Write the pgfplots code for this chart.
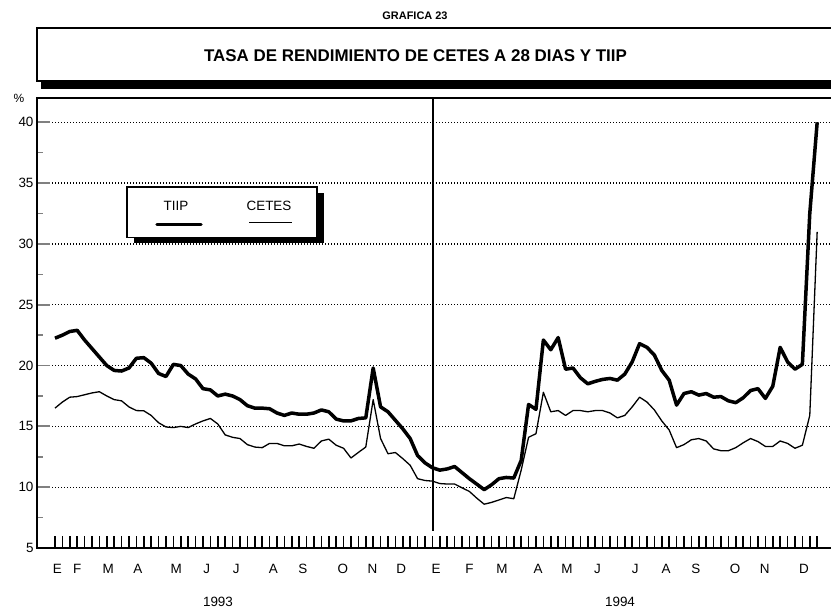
\documentclass[border=0pt]{standalone}
\usepackage{fontspec}
\setmainfont{Liberation Sans}
\usepackage{pgfplots}
\pgfplotsset{compat=1.18}
\usepackage{pgfplotstable}

\pgfplotstableread{
i tiip cetes
0 22.25 16.5
1 22.5 17.0
2 22.8 17.4
3 22.9 17.45
4 22.1 17.6
5 21.4 17.75
6 20.7 17.85
7 20.0 17.5
8 19.6 17.2
9 19.55 17.1
10 19.8 16.6
11 20.6 16.3
12 20.65 16.28
13 20.2 15.9
14 19.35 15.3
15 19.1 14.95
16 20.1 14.9
17 20.0 15.0
18 19.3 14.9
19 18.9 15.2
20 18.1 15.45
21 18.0 15.65
22 17.5 15.2
23 17.65 14.3
24 17.5 14.1
25 17.2 14.0
26 16.7 13.5
27 16.5 13.3
28 16.5 13.25
29 16.45 13.6
30 16.1 13.6
31 15.9 13.4
32 16.1 13.4
33 16.0 13.55
34 16.0 13.35
35 16.1 13.2
36 16.35 13.8
37 16.2 13.95
38 15.6 13.45
39 15.45 13.2
40 15.45 12.4
41 15.65 12.86
42 15.7 13.3
43 19.8 17.2
44 16.6 14.0
45 16.2 12.75
46 15.5 12.85
47 14.8 12.35
48 14.0 11.8
49 12.6 10.7
50 12.0 10.55
51 11.6 10.5
52 11.4 10.3
53 11.5 10.26
54 11.7 10.26
55 11.2 9.95
56 10.7 9.65
57 10.25 9.1
58 9.8 8.6
59 10.2 8.75
60 10.7 8.95
61 10.8 9.15
62 10.75 9.05
63 12.2 11.4
64 16.8 14.1
65 16.4 14.4
66 22.1 17.8
67 21.3 16.2
68 22.3 16.3
69 19.7 15.9
70 19.8 16.3
71 19.0 16.3
72 18.5 16.2
73 18.7 16.3
74 18.86 16.3
75 18.94 16.1
76 18.8 15.7
77 19.3 15.9
78 20.3 16.6
79 21.8 17.4
80 21.5 17.0
81 20.86 16.35
82 19.6 15.45
83 18.8 14.7
84 16.75 13.25
85 17.7 13.5
86 17.85 13.9
87 17.57 14.0
88 17.7 13.8
89 17.4 13.15
90 17.45 13.0
91 17.1 13.0
92 16.95 13.25
93 17.35 13.65
94 17.95 14.0
95 18.1 13.75
96 17.3 13.35
97 18.3 13.35
98 21.5 13.8
99 20.3 13.6
100 19.7 13.2
101 20.1 13.45
102 32.5 15.9
103 40.0 31.0
}\datatable

\begin{document}
\begin{tikzpicture}
\useasboundingbox (0,0) rectangle (831bp,612bp);
% title box with shadow
\fill[black] (41bp,523bp) rectangle (845bp,578bp);
\draw[line width=1.5bp, fill=white] (37bp,531bp) rectangle (845bp,584bp);
\node[font=\bfseries\fontsize{17}{20}\selectfont] at (415.5bp,556bp) {TASA DE RENDIMIENTO DE CETES A 28 DIAS Y TIIP};
\node[font=\bfseries\fontsize{11}{13}\selectfont] at (415bp,596bp) {GRAFICA 23};
\node[font=\fontsize{12}{14}\selectfont] at (19bp,514bp) {\%};

\begin{axis}[
  at={(37bp,64bp)}, anchor=south west,
  scale only axis, width=800bp, height=450bp,
  xmin=-2.43, xmax=105.68, ymin=5, ymax=42,
  axis line style={line width=1.8bp},
  tick pos=left,
  ytick={5,10,...,40},
  minor ytick={7.5,12.5,...,37.5},
  major tick length=12.7bp,
  minor y tick style={/pgfplots/minor tick length=6bp, line width=1.5bp},
  major y tick style={line width=1.8bp},
  ymajorgrids,
  major grid style={line width=1.3bp, dash pattern=on 1.3bp off 1.7bp, black},
  xtick={0.31,3.01,7.2,11.2,16.4,20.5,24.5,29.5,33.5,38.9,42.9,46.8,51.5,56.0,60.4,65.3,69.2,73.3,78.4,82.6,86.6,91.9,95.9,101.2},
  xticklabels={E,F,M,A,M,J,J,A,S,O,N,D,E,F,M,A,M,J,J,A,S,O,N,D},
  major x tick style={draw=none},
  minor xtick={0,1,...,103},
  minor x tick style={/pgfplots/minor tick length=12bp, line width=1.5bp, black},
  tick label style={font=\fontsize{13.5}{16}\selectfont},
  xticklabel style={yshift=-13bp},
  /pgf/number format/assume math mode=true,
  tick align=inside,
  clip=false,
]
\addplot[black, line width=1.3bp, line join=round] table[x=i, y=cetes] {\datatable};
\addplot[black, line width=3.5bp, line join=round] table[x=i, y=tiip] {\datatable};
\draw[line width=1.3bp] (axis cs:51.1,6.4) -- (axis cs:51.1,42);
\end{axis}

% year labels
\node[font=\fontsize{13.5}{16}\selectfont] at (218bp,10bp) {1993};
\node[font=\fontsize{13.5}{16}\selectfont] at (620bp,10bp) {1994};

% legend with shadow
\fill[black] (134bp,368.7bp) rectangle (324bp,419bp);
\draw[line width=1.3bp, fill=white] (127bp,374.3bp) rectangle (317bp,425bp);
\node[font=\fontsize{13.5}{16}\selectfont] at (176bp,406bp) {TIIP};
\node[font=\fontsize{13.5}{16}\selectfont] at (269bp,406bp) {CETES};
\draw[line width=3.5bp, line cap=round] (157bp,387.7bp) -- (201bp,387.7bp);
\draw[line width=1.3bp] (249bp,389.3bp) -- (292bp,389.3bp);
\end{tikzpicture}
\end{document}
